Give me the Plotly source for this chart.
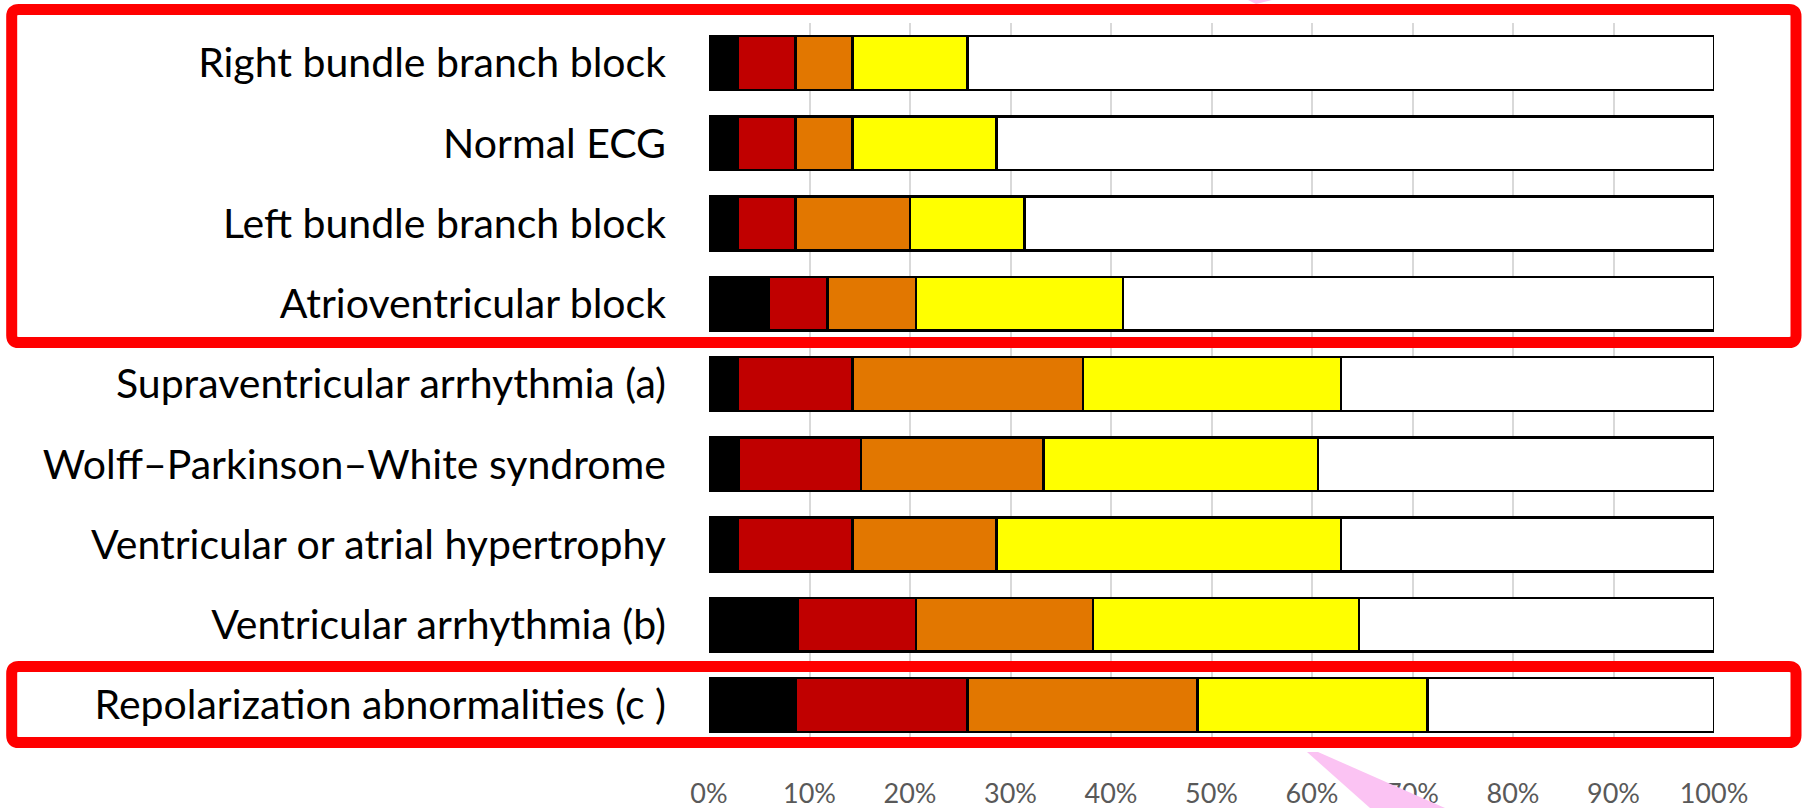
import plotly.graph_objects as go

categories = [
    "Right bundle branch block",
    "Normal ECG",
    "Left bundle branch block",
    "Atrioventricular block",
    "Supraventricular arrhythmia (a)",
    "Wolff–Parkinson–White syndrome",
    "Ventricular or atrial hypertrophy",
    "Ventricular arrhythmia (b)",
    "Repolarization abnormalities (c )",
]
seg_black = [2.9, 2.9, 2.9, 5.9, 2.9, 3.0, 2.9, 8.8, 8.6]
seg_red = [5.7, 5.7, 5.7, 5.9, 11.4, 12.1, 11.4, 11.8, 17.1]
seg_orange = [5.7, 5.7, 11.4, 8.8, 22.9, 18.2, 14.3, 17.6, 22.9]
seg_yellow = [11.4, 14.3, 11.4, 20.6, 25.7, 27.3, 34.3, 26.5, 22.9]
seg_white = [74.3, 71.4, 68.6, 58.8, 37.1, 39.4, 37.1, 35.3, 28.5]
x_ticks = [0, 10, 20, 30, 40, 50, 60, 70, 80, 90, 100]
x_tick_labels = ["0%", "10%", "20%", "30%", "40%", "50%", "60%", "70%", "80%", "90%", "100%"]

series = [
    (seg_black, "#000000"),
    (seg_red, "#C00000"),
    (seg_orange, "#E27700"),
    (seg_yellow, "#FFFF00"),
    (seg_white, "#FFFFFF"),
]

W, H = 1807, 808
ML, MR, MT, MB = 709, 93, 23, 63
PW, PH = W - ML - MR, H - MT - MB

fig = go.Figure()
for vals, col in series:
    fig.add_trace(go.Bar(
        y=categories, x=vals, orientation="h", width=0.67,
        marker=dict(color=col, line=dict(color="#000000", width=2.5)),
        showlegend=False, hoverinfo="skip",
    ))


def px(x):
    return (x - ML) / PW


def py(y):
    return 1 - (y - MT) / PH


def rounded_rect(x0, y0, x1, y1, r):
    pts = [
        f"M {px(x0 + r)},{py(y0)}",
        f"L {px(x1 - r)},{py(y0)}",
        f"Q {px(x1)},{py(y0)} {px(x1)},{py(y0 + r)}",
        f"L {px(x1)},{py(y1 - r)}",
        f"Q {px(x1)},{py(y1)} {px(x1 - r)},{py(y1)}",
        f"L {px(x0 + r)},{py(y1)}",
        f"Q {px(x0)},{py(y1)} {px(x0)},{py(y1 - r)}",
        f"L {px(x0)},{py(y0 + r)}",
        f"Q {px(x0)},{py(y0)} {px(x0 + r)},{py(y0)}",
        "Z",
    ]
    return " ".join(pts)


def poly(points):
    return "M " + " L ".join(f"{px(a)},{py(b)}" for a, b in points) + " Z"


shapes = [
    dict(type="path", xref="paper", yref="paper",
         path=rounded_rect(11.7, 9.5, 1796, 342.5, 7),
         line=dict(color="#FF0000", width=11), fillcolor="rgba(0,0,0,0)", layer="above"),
    dict(type="path", xref="paper", yref="paper",
         path=rounded_rect(11.7, 666.5, 1796, 742.5, 7),
         line=dict(color="#FF0000", width=11), fillcolor="rgba(0,0,0,0)", layer="above"),
    dict(type="path", xref="paper", yref="paper",
         path=poly([(1307, 752), (1318, 752), (1445, 808), (1370, 808)]),
         line=dict(width=0), fillcolor="#FBC3F3", layer="above"),
    dict(type="path", xref="paper", yref="paper",
         path=poly([(1248, 0), (1272, 0), (1256, 4)]),
         line=dict(width=0), fillcolor="#FBC3F3", layer="above"),
]

fig.update_layout(
    template="none",
    barmode="stack",
    width=W, height=H, autosize=False,
    margin=dict(l=ML, r=MR, t=MT, b=MB, pad=0, autoexpand=False),
    paper_bgcolor="#FFFFFF",
    plot_bgcolor="#FFFFFF",
    shapes=shapes,
    xaxis=dict(
        range=[0, 100], tickmode="array", tickvals=x_ticks, ticktext=x_tick_labels,
        showgrid=True, gridcolor="#D9D9D9", gridwidth=1.5,
        zeroline=False, showline=False, ticks="", automargin=False,
        ticklabelstandoff=30,
        tickfont=dict(family="Lato", size=27, color="#595959"),
        fixedrange=True,
    ),
    yaxis=dict(
        autorange="reversed", categoryorder="array", categoryarray=categories,
        showgrid=False, zeroline=False, showline=False, ticks="", automargin=False,
        ticklabelstandoff=42,
        tickfont=dict(family="Lato", size=41, color="#000000"),
        fixedrange=True,
    ),
)

fig.write_html(
    "out.html",
    config={"displayModeBar": False},
    post_script="document.body.style.margin='0px';document.body.style.overflow='hidden';",
)
